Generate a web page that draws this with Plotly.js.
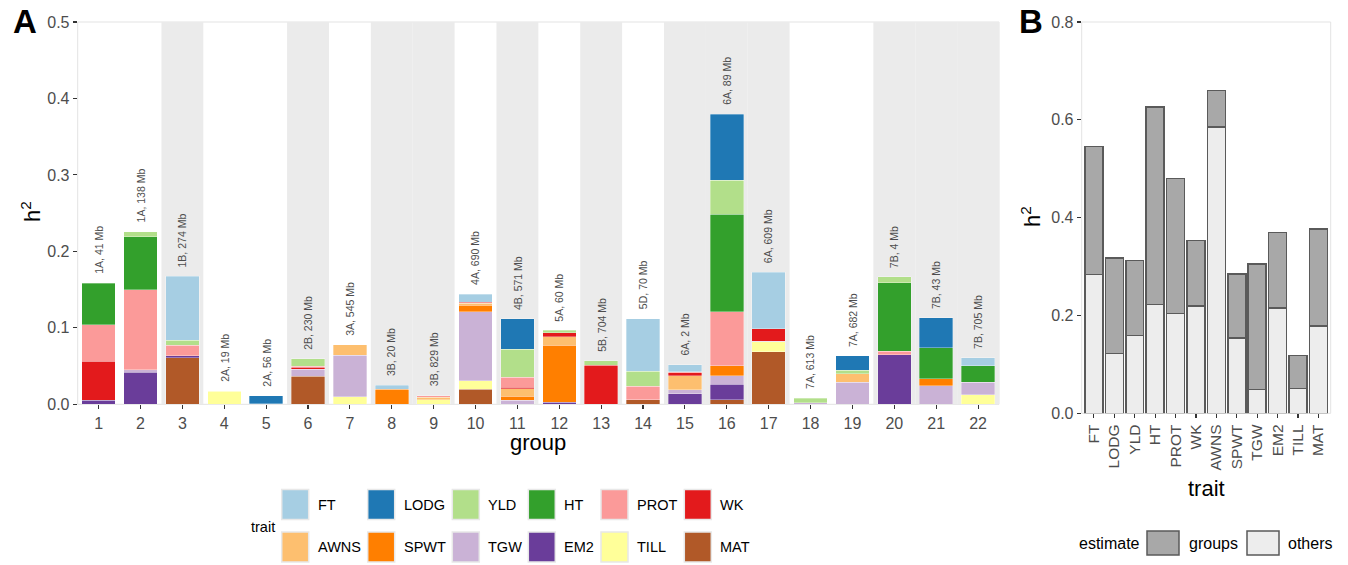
<!DOCTYPE html>
<html><head><meta charset="utf-8">
<script src="https://cdn.plot.ly/plotly-3.0.1.min.js"></script>
<style>html,body{margin:0;padding:0;background:#fff}#chart{width:1348px;height:565px}</style>
</head><body><div id="chart"></div>
<script>
// ---------- Panel A data ----------
const groups = [1,2,3,4,5,6,7,8,9,10,11,12,13,14,15,16,17,18,19,20,21,22];
const groupLabels = ['1A, 41 Mb','1A, 138 Mb','1B, 274 Mb','2A, 19 Mb','2A, 56 Mb','2B, 230 Mb','3A, 545 Mb','3B, 20 Mb','3B, 829 Mb','4A, 690 Mb','4B, 571 Mb','5A, 60 Mb','5B, 704 Mb','5D, 70 Mb','6A, 2 Mb','6A, 89 Mb','6A, 609 Mb','7A, 613 Mb','7A, 682 Mb','7B, 4 Mb','7B, 43 Mb','7B, 705 Mb'];
const traits = ['FT','LODG','YLD','HT','PROT','WK','AWNS','SPWT','TGW','EM2','TILL','MAT'];
const traitColors = ['#A6CEE3','#1F78B4','#B2DF8A','#33A02C','#FB9A99','#E31A1C','#FDBF6F','#FF7F00','#CAB2D6','#6A3D9A','#FFFF99','#B15928'];
//           g1     g2     g3     g4     g5     g6     g7     g8     g9     g10    g11    g12    g13    g14    g15    g16    g17    g18    g19    g20    g21    g22
const FT   = [0,     0,     0.084, 0,     0,     0,     0,     0.0048,0,     0.010, 0,     0,     0,     0.069, 0.0096,0,     0.0737,0,     0,     0,     0,     0.0105];
const LODG = [0,     0,     0,     0,     0.0105,0,     0,     0,     0,     0,     0.0401,0,     0,     0,     0,     0.0864,0,     0,     0.0192,0,     0.0388,0];
const YLD  = [0,     0.0065,0.0065,0,     0,     0.010, 0,     0,     0,     0,     0.0367,0.003, 0.0061,0.0192,0,     0.0445,0,     0.0057,0.0044,0.0079,0,     0];
const HT   = [0.0545,0.069, 0,     0,     0.001, 0,     0,     0,     0,     0,     0,     0,     0,     0,     0,     0.1274,0,     0,     0,     0.0894,0.0406,0.0214];
const PROT = [0.048, 0.105, 0.0135,0,     0,     0.001, 0,     0,     0.002, 0,     0.0127,0,     0,     0.0179,0.0013,0.0707,0,     0,     0,     0.0044,0,     0];
const WK   = [0.051, 0,     0,     0,     0,     0.0026,0,     0,     0,     0.0017,0.0022,0.0052,0.051, 0,     0.0039,0,     0.0161,0,     0,     0,     0,     0];
const AWNS = [0,     0,     0,     0.001, 0,     0,     0.0135,0,     0.0035,0.0026,0.010, 0.0113,0,     0,     0.0183,0,     0,     0,     0.0113,0,     0,     0];
const SPWT = [0,     0,     0,     0,     0,     0,     0,     0.020, 0,     0.0083,0.0052,0.0742,0,     0,     0,     0.0131,0,     0,     0,     0,     0.0092,0];
const TGW  = [0,     0.003, 0,     0,     0,     0.0092,0.0545,0,     0,     0.0903,0.0052,0,     0,     0,     0.0048,0.0113,0.001, 0.002, 0.0288,0,     0.0244,0.0166];
const EM2  = [0.005, 0.042, 0.003, 0,     0,     0,     0,     0,     0,     0,     0,     0.003, 0,     0,     0.014, 0.0205,0,     0,     0,     0.065, 0,     0];
const TILL = [0,     0,     0,     0.017, 0,     0,     0.0096,0,     0.006, 0.0113,0,     0,     0,     0,     0,     0,     0.0131,0,     0,     0,     0,     0.0122];
const MAT  = [0,     0,     0.0607,0,     0,     0.0367,0,     0,     0,     0.0196,0,     0,     0,     0.006, 0,     0.0057,0.0685,0,     0,     0,     0,     0];

// ---------- Panel B data ----------
const traitsB  = ['FT','LODG','YLD','HT','PROT','WK','AWNS','SPWT','TGW','EM2','TILL','MAT'];
const othersB  = [0.2836,0.1227,0.1595,0.2222,0.2045,0.2195,0.5849,0.1540,0.0491,0.2154,0.0504,0.1786];
const groupsB  = [0.2617,0.1950,0.1527,0.4036,0.2755,0.1336,0.0750,0.1309,0.2563,0.1541,0.0682,0.1977];
const estimateNames = ['groups','others'];
const estimateColors = ['#A8A8A8','#EDEDED'];

const traitValues = {FT, LODG, YLD, HT, PROT, WK, AWNS, SPWT, TGW, EM2, TILL, MAT};
const stackOrder = traits.slice().reverse(); // ggplot stacks first level on top

const W = 1348, H = 565;
const px = x => x / W;
const py = y => 1 - y / H;
const FONT = 'Liberation Sans, Arial, sans-serif';

const data = [];
stackOrder.forEach(t => {
  const i = traits.indexOf(t);
  data.push({
    type: 'bar', x: groups, y: traitValues[t].map(v => v === 0 ? null : v),
    name: t, width: 0.8, xaxis: 'x', yaxis: 'y',
    marker: {color: traitColors[i], line: {color: 'rgba(255,255,255,0.55)', width: 0.6}},
    showlegend: false, hoverinfo: 'x+y+name'
  });
});
data.push({type:'bar', x: traitsB, y: othersB, name: 'others', width: 0.88, xaxis:'x2', yaxis:'y2',
  marker:{color: estimateColors[1], line:{color:'#5A5A5A', width:1.5}}, showlegend:false});
data.push({type:'bar', x: traitsB, y: groupsB, name: 'groups', width: 0.88, xaxis:'x2', yaxis:'y2',
  marker:{color: estimateColors[0], line:{color:'#5A5A5A', width:1.5}}, showlegend:false});

// background shading by chromosome alternation
const shapes = [];
let idx = -1, prev = null;
groups.forEach((g, k) => {
  const chrom = groupLabels[k].split(',')[0];
  if (chrom !== prev) { idx++; prev = chrom; }
  if (idx % 2 === 1) {
    shapes.push({type:'rect', xref:'x', yref:'y', x0:g-0.5, x1:g+0.5, y0:0, y1:0.5,
      fillcolor:'#EBEBEB', line:{width:0}, layer:'below'});
  }
});
// panel borders
shapes.push({type:'rect', xref:'x domain', yref:'y domain', x0:0,x1:1,y0:0,y1:1, line:{color:'#E3E3E3', width:1}, layer:'below'});
shapes.push({type:'rect', xref:'x2 domain', yref:'y2 domain', x0:0,x1:1,y0:0,y1:1, line:{color:'#E3E3E3', width:1}, layer:'below'});

const annotations = [];
// group labels above bars
groups.forEach((g, k) => {
  let tot = 0; traits.forEach(t => tot += traitValues[t][k]);
  annotations.push({x:g, y:tot, xref:'x', yref:'y', text: groupLabels[k], textangle:-90,
    showarrow:false, xanchor:'center', yanchor:'bottom', yshift:7,
    font:{family:FONT, size:10.5, color:'#4D4D4D'}});
});
// panel letters
annotations.push({x:px(11), y:py(21), xref:'paper', yref:'paper', text:'<b>A</b>', showarrow:false, xanchor:'left', yanchor:'middle', font:{family:FONT, size:33, color:'#000'}});
annotations.push({x:px(1017), y:py(21), xref:'paper', yref:'paper', text:'<b>B</b>', showarrow:false, xanchor:'left', yanchor:'middle', font:{family:FONT, size:33, color:'#000'}});
// axis titles
annotations.push({x:px(538), y:py(442), xref:'paper', yref:'paper', text:'group', showarrow:false, xanchor:'center', yanchor:'middle', font:{family:FONT, size:22, color:'#000'}});
annotations.push({x:px(31), y:py(212), xref:'paper', yref:'paper', text:'h<sup>2</sup>', textangle:-90, showarrow:false, xanchor:'center', yanchor:'middle', font:{family:FONT, size:22, color:'#000'}});
annotations.push({x:px(1206), y:py(489), xref:'paper', yref:'paper', text:'trait', showarrow:false, xanchor:'center', yanchor:'middle', font:{family:FONT, size:22, color:'#000'}});
annotations.push({x:px(1031), y:py(217), xref:'paper', yref:'paper', text:'h<sup>2</sup>', textangle:-90, showarrow:false, xanchor:'center', yanchor:'middle', font:{family:FONT, size:22, color:'#000'}});

// Legend A (manual, 2 rows x 6 cols)
const colLeft = [281.7, 367.7, 452.3, 528.3, 601, 684.3];
const rowTop = [489.5, 532];
const keyW = 27, keyH = 30;
traits.forEach((t, i) => {
  const r = Math.floor(i / 6), c = i % 6;
  const x0 = colLeft[c], y0 = rowTop[r];
  shapes.push({type:'rect', xref:'paper', yref:'paper', x0:px(x0), x1:px(x0+keyW), y0:py(y0+keyH), y1:py(y0),
    fillcolor: traitColors[i], line:{color:'#E8E8E8', width:1.5}});
  annotations.push({x:px(x0+keyW+7), y:py(y0+keyH/2), xref:'paper', yref:'paper', text:t, showarrow:false,
    xanchor:'left', yanchor:'middle', font:{family:FONT, size:14.5, color:'#000'}});
});
annotations.push({x:px(249), y:py(527), xref:'paper', yref:'paper', text:'trait', showarrow:false, xanchor:'left', yanchor:'middle', font:{family:FONT, size:14.5, color:'#000'}});

// Legend B
annotations.push({x:px(1077), y:py(543), xref:'paper', yref:'paper', text:'estimate', showarrow:false, xanchor:'left', yanchor:'middle', font:{family:FONT, size:16, color:'#000'}});
const keyBLeft = [1147, 1247];
const txtBLeft = [1187, 1286];
estimateNames.forEach((n, i) => {
  shapes.push({type:'rect', xref:'paper', yref:'paper', x0:px(keyBLeft[i]), x1:px(keyBLeft[i]+32), y0:py(555), y1:py(531),
    fillcolor: estimateColors[i], line:{color:'#5A5A5A', width:1.5}});
  annotations.push({x:px(txtBLeft[i]), y:py(543), xref:'paper', yref:'paper', text:n, showarrow:false,
    xanchor:'left', yanchor:'middle', font:{family:FONT, size:16, color:'#000'}});
});

const axTick = {family:FONT, size:16, color:'#4D4D4D'};
const layout = {
  width: W, height: H, margin:{l:0, r:0, t:0, b:0},
  paper_bgcolor:'#fff', plot_bgcolor:'#fff', barmode:'stack', bargap:0,
  showlegend:false,
  xaxis:{domain:[px(77.7), px(999)], range:[0.5, 22.5], tickvals: groups, ticktext: groups.map(String),
    ticks:'outside', ticklen:4, tickwidth:1.1, tickcolor:'#333', showgrid:false, zeroline:false, showline:false,
    tickfont: axTick, anchor:'y', fixedrange:true},
  yaxis:{domain:[py(404.3), py(22)], range:[0, 0.5], tickvals:[0,0.1,0.2,0.3,0.4,0.5], ticktext:['0.0','0.1','0.2','0.3','0.4','0.5'],
    ticks:'outside', ticklen:4, tickwidth:1.1, tickcolor:'#333', showgrid:false, zeroline:false, showline:false,
    tickfont: axTick, anchor:'x', fixedrange:true},
  xaxis2:{domain:[px(1081.7), px(1330.7)], type:'category', categoryorder:'array', categoryarray: traitsB, range:[-0.6, 11.6],
    tickangle:-90, ticks:'outside', ticklen:4, tickwidth:1.1, tickcolor:'#333', showgrid:false, zeroline:false, showline:false,
    tickfont:{family:FONT, size:15.5, color:'#4D4D4D'}, anchor:'y2', fixedrange:true},
  yaxis2:{domain:[py(413.3), py(22)], range:[0, 0.8], tickvals:[0,0.2,0.4,0.6,0.8], ticktext:['0.0','0.2','0.4','0.6','0.8'],
    ticks:'outside', ticklen:4, tickwidth:1.1, tickcolor:'#333', showgrid:false, zeroline:false, showline:false,
    tickfont: axTick, anchor:'x2', fixedrange:true},
  shapes: shapes, annotations: annotations
};
Plotly.newPlot('chart', data, layout, {staticPlot:true, displayModeBar:false});
</script></body></html>
